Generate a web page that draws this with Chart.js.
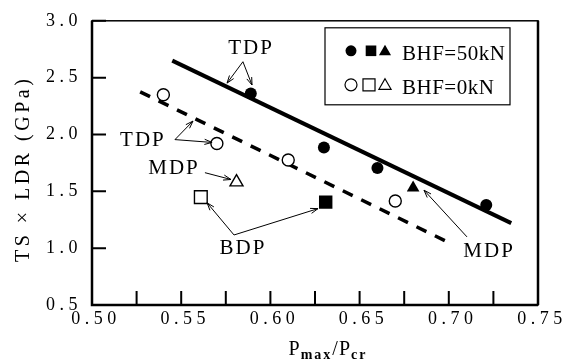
<!DOCTYPE html>
<html>
<head>
<meta charset="utf-8">
<script src="https://cdn.jsdelivr.net/npm/chart.js@4/dist/chart.umd.min.js"></script>
<style>
  html, body { margin: 0; padding: 0; background: #fff; }
  canvas { display: block; }
</style>
</head>
<body>
<canvas id="chart" width="571" height="363"></canvas>
<script>
const SERIF = '"Liberation Serif", "Times New Roman", serif';

// axes
const xMin = 0.50, xMax = 0.75, xStep = 0.025;
const yMin = 0.5, yMax = 3.0, yStep = 0.5;

// BHF = 50kN (filled marks)
const fullCircleX = [0.589, 0.630, 0.660, 0.721];
const fullCircleY = [2.36, 1.885, 1.705, 1.38];
const fullSquareX = [0.631];
const fullSquareY = [1.405];
const fullTriangleX = [0.680];
const fullTriangleY = [1.531];

// BHF = 0kN (open marks)
const openCircleX = [0.540, 0.570, 0.610, 0.670];
const openCircleY = [2.35, 1.92, 1.775, 1.415];
const openSquareX = [0.561];
const openSquareY = [1.449];
const openTriangleX = [0.581];
const openTriangleY = [1.581];

// trend lines
const solidLineX = [0.545, 0.735];
const solidLineY = [2.65, 1.22];
const dashLineX = [0.527, 0.698];
const dashLineY = [2.375, 1.065];

// labels with arrows (data coordinates)
const notes = [
  { text: 'TDP', at: [0.5886, 2.755], from: [0.5846, 2.640], to: [[0.5757, 2.452], [0.5897, 2.435]] },
  { text: 'TDP', at: [0.5280, 1.947], from: [0.5465, 1.955], to: [[0.5566, 2.118], [0.5673, 1.930]] },
  { text: 'MDP', at: [0.5454, 1.699], from: [0.5633, 1.664], to: [[0.5779, 1.604]] },
  { text: 'BDP', at: [0.5841, 0.997], from: [0.5796, 1.116], to: [[0.5645, 1.399], [0.6267, 1.348]] },
  { text: 'MDP', at: [0.7220, 0.971], from: [0.7102, 1.099], to: [[0.6861, 1.510]] }
];

const pts = (xs, ys) => xs.map((x, i) => ({ x: x, y: ys[i] }));

function marks(label, xs, ys, style, filled, r) {
  return {
    label: label,
    data: pts(xs, ys),
    pointStyle: style,
    pointRadius: r,
    pointHoverRadius: r,
    backgroundColor: filled ? '#000' : '#fff',
    borderColor: '#000',
    borderWidth: filled ? 0 : 1.4,
    showLine: false,
    order: 1
  };
}

function trend(label, xs, ys, width, dash) {
  return {
    label: label,
    data: pts(xs, ys),
    showLine: true,
    borderColor: '#000',
    borderWidth: width,
    borderDash: dash,
    pointRadius: 0,
    fill: false,
    order: 2
  };
}

function arrow(ctx, x1, y1, x2, y2) {
  const ang = Math.atan2(y2 - y1, x2 - x1), h = 8;
  ctx.beginPath();
  ctx.moveTo(x1, y1);
  ctx.lineTo(x2, y2);
  ctx.moveTo(x2 - h * Math.cos(ang - 0.33), y2 - h * Math.sin(ang - 0.33));
  ctx.lineTo(x2, y2);
  ctx.lineTo(x2 - h * Math.cos(ang + 0.33), y2 - h * Math.sin(ang + 0.33));
  ctx.stroke();
}

function point(ctx, style, x, y, r, filled) {
  ctx.fillStyle = filled ? '#000' : '#fff';
  ctx.strokeStyle = '#000';
  ctx.lineWidth = 1.2;
  Chart.helpers.drawPoint(ctx, { pointStyle: style, radius: r, rotation: 0, borderWidth: filled ? 0 : 1.2 }, x, y);
}

const decor = {
  id: 'decor',
  beforeDraw(chart) {
    chart.ctx.letterSpacing = '4.5px';
  },
  afterDraw(chart) {
    const { ctx, chartArea: a, scales: { x, y } } = chart;
    ctx.save();
    ctx.strokeStyle = '#000';
    ctx.fillStyle = '#000';
    ctx.lineCap = 'butt';

    // frame
    ctx.lineWidth = 1.5;
    ctx.strokeRect(a.left, a.top, a.right - a.left, a.bottom - a.top);
    ctx.lineWidth = 2.5;
    ctx.beginPath();
    ctx.moveTo(a.left, a.top);
    ctx.lineTo(a.left, a.bottom);
    ctx.lineTo(a.right, a.bottom);
    ctx.moveTo(a.right, a.top);
    ctx.lineTo(a.right, a.bottom);
    ctx.stroke();

    // inward ticks
    ctx.lineWidth = 2;
    ctx.beginPath();
    x.ticks.forEach(t => {
      const px = x.getPixelForValue(t.value);
      ctx.moveTo(px, a.bottom);
      ctx.lineTo(px, a.bottom - 14);
    });
    y.ticks.forEach(t => {
      const py = y.getPixelForValue(t.value);
      ctx.moveTo(a.left, py);
      ctx.lineTo(a.left + 14, py);
    });
    ctx.stroke();

    // y title
    ctx.save();
    ctx.translate(24, (a.top + a.bottom) / 2 + 6);
    ctx.rotate(-Math.PI / 2);
    ctx.font = '20px ' + SERIF;
    ctx.letterSpacing = '3.5px';
    ctx.textAlign = 'center';
    ctx.textBaseline = 'middle';
    ctx.fillText('TS \u00d7 LDR (GPa)', 0, 0);
    ctx.restore();

    // x title: P_max / P_cr
    const parts = [
      ['P', '20px ' + SERIF, 0, '1px'],
      ['max', 'bold 14px ' + SERIF, 4, '2px'],
      ['/', '20px ' + SERIF, 0, '1px'],
      ['P', '20px ' + SERIF, 0, '1px'],
      ['cr', 'bold 14px ' + SERIF, 4, '2px']
    ];
    let total = 0;
    parts.forEach(p => {
      ctx.font = p[1];
      ctx.letterSpacing = p[3];
      p.push(ctx.measureText(p[0]).width);
      total += p[4];
    });
    let cx = (a.left + a.right) / 2 + 13 - total / 2;
    ctx.textAlign = 'left';
    ctx.textBaseline = 'alphabetic';
    parts.forEach(p => {
      ctx.font = p[1];
      ctx.letterSpacing = p[3];
      ctx.fillText(p[0], cx, 355 + p[2]);
      cx += p[4];
    });

    // legend box
    const lx = a.left + 233, ly = a.top + 7;
    ctx.lineWidth = 1.2;
    ctx.strokeRect(lx, ly, 185, 77);
    point(ctx, 'circle', lx + 26, ly + 23, 5.5, true);
    point(ctx, 'rect', lx + 46, ly + 23, 7.5, true);
    point(ctx, 'triangle', lx + 60, ly + 24, 7, true);
    point(ctx, 'circle', lx + 26, ly + 57, 6, false);
    point(ctx, 'rect', lx + 44, ly + 57, 8.5, false);
    point(ctx, 'triangle', lx + 60, ly + 58, 7, false);
    ctx.fillStyle = '#000';
    ctx.font = '21px ' + SERIF;
    ctx.letterSpacing = '0.5px';
    ctx.textAlign = 'left';
    ctx.fillText('BHF=50kN', lx + 77, ly + 32);
    ctx.fillText('BHF=0kN', lx + 77, ly + 66);

    // annotations
    ctx.font = '21px ' + SERIF;
    ctx.letterSpacing = '2px';
    ctx.textAlign = 'center';
    ctx.textBaseline = 'middle';
    ctx.lineWidth = 1;
    notes.forEach(n => {
      ctx.fillText(n.text, x.getPixelForValue(n.at[0]) + 1, y.getPixelForValue(n.at[1]));
      const fx = x.getPixelForValue(n.from[0]), fy = y.getPixelForValue(n.from[1]);
      n.to.forEach(t => arrow(ctx, fx, fy, x.getPixelForValue(t[0]), y.getPixelForValue(t[1])));
    });

    ctx.letterSpacing = '0px';
    ctx.restore();
  }
};

const ctx = document.getElementById('chart').getContext('2d');
new Chart(ctx, {
  type: 'scatter',
  data: {
    datasets: [
      trend('BHF=50kN fit', solidLineX, solidLineY, 4, []),
      trend('BHF=0kN fit', dashLineX, dashLineY, 3.5, [11, 9.5]),
      marks('TDP 50kN', fullCircleX, fullCircleY, 'circle', true, 6),
      marks('BDP 50kN', fullSquareX, fullSquareY, 'rect', true, 9.5),
      marks('MDP 50kN', fullTriangleX, fullTriangleY, 'triangle', true, 7.3),
      marks('TDP 0kN', openCircleX, openCircleY, 'circle', false, 6),
      marks('BDP 0kN', openSquareX, openSquareY, 'rect', false, 9),
      marks('MDP 0kN', openTriangleX, openTriangleY, 'triangle', false, 7.5)
    ]
  },
  options: {
    responsive: false,
    animation: false,
    layout: { padding: { left: 0, top: 13, right: 33, bottom: 0 } },
    plugins: {
      legend: { display: false },
      tooltip: { enabled: false }
    },
    scales: {
      x: {
        type: 'linear',
        min: xMin,
        max: xMax,
        afterFit: s => { s.height = 58; },
        grid: { display: false, drawTicks: false },
        border: { display: false },
        ticks: {
          stepSize: xStep,
          autoSkip: false,
          maxRotation: 0,
          padding: 3,
          labelOffset: 4,
          color: '#000',
          font: { family: SERIF, size: 18 },
          callback: v => (Math.round(v * 1000) % 50 === 0 ? v.toFixed(2) : '')
        }
      },
      y: {
        type: 'linear',
        min: yMin,
        max: yMax,
        afterFit: s => { s.width = 92; },
        grid: { display: false, drawTicks: false },
        border: { display: false },
        ticks: {
          stepSize: yStep,
          padding: 10,
          color: '#000',
          font: { family: SERIF, size: 18 },
          callback: v => v.toFixed(1)
        }
      }
    }
  },
  plugins: [decor]
});
</script>
</body>
</html>
